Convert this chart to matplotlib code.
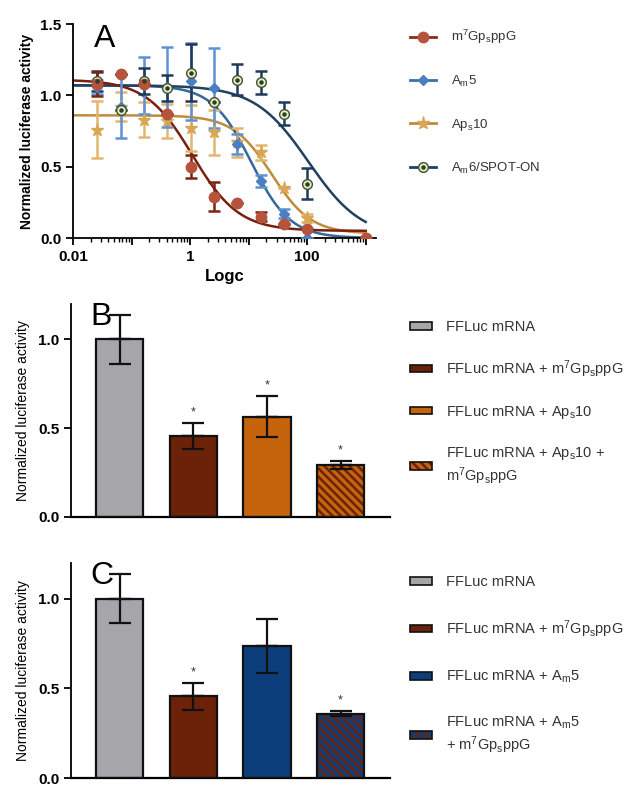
import numpy as np
import matplotlib
matplotlib.use("Agg")
import matplotlib.pyplot as plt
from matplotlib.lines import Line2D
from matplotlib.patches import Patch
from matplotlib.ticker import LogLocator, FuncFormatter, NullFormatter, FixedLocator

plt.rcParams["font.family"] = ["Liberation Sans", "DejaVu Sans"]
plt.rcParams["mathtext.default"] = "regular"
plt.rcParams["hatch.linewidth"] = 1.8

# ---- panel A: dose response ----
conc = [0.0262, 0.0655, 0.164, 0.41, 1.02, 2.56, 6.4, 16, 40, 100, 1000]

cap_y = [1.08, 1.15, 1.08, 0.87, 0.50, 0.29, 0.245, 0.15, 0.10, 0.06, 0.0]
cap_err = [0.085, 0.0, 0.0, 0.0, 0.08, 0.10, 0.0, 0.03, 0.0, 0.0, 0.0]

am5_y = [1.06, 0.92, 1.07, 1.06, 1.10, 1.05, 0.66, 0.40, 0.17, 0.0]
am5_err = [0.05, 0.22, 0.20, 0.28, 0.27, 0.28, 0.07, 0.04, 0.03, 0.0]

aps10_y = [0.76, 0.92, 0.83, 0.82, 0.77, 0.74, 0.67, 0.60, 0.35, 0.14]
aps10_err = [0.20, 0.10, 0.12, 0.12, 0.16, 0.16, 0.10, 0.05, 0.0, 0.03]

am6_y = [1.10, 0.90, 1.10, 1.05, 1.16, 0.95, 1.11, 1.09, 0.87, 0.38]
am6_err = [0.07, 0.0, 0.09, 0.09, 0.20, 0.0, 0.11, 0.08, 0.08, 0.11]

# fitted 4PL parameters: top, bottom, IC50, hill
cap_fit = (1.11, 0.05, 1.1, 1.1)
am5_fit = (1.07, 0.0, 11.0, 1.3)
aps10_fit = (0.86, 0.03, 25.0, 1.3)
am6_fit = (1.07, 0.0, 105.0, 0.95)

# ---- panels B and C: bar charts ----
bar_b = [1.0, 0.458, 0.565, 0.294]
bar_b_err = [0.137, 0.073, 0.117, 0.022]
star_b = [False, True, True, True]
labels_b = ["FFLuc mRNA",
            "FFLuc mRNA + m$^7$Gp$_s$ppG",
            "FFLuc mRNA + Ap$_s$10",
            "FFLuc mRNA + Ap$_s$10 +\nm$^7$Gp$_s$ppG"]

bar_c = [1.0, 0.455, 0.736, 0.36]
bar_c_err = [0.137, 0.078, 0.152, 0.015]
star_c = [False, True, False, True]
labels_c = ["FFLuc mRNA",
            "FFLuc mRNA + m$^7$Gp$_s$ppG",
            "FFLuc mRNA + A$_m$5",
            "FFLuc mRNA + A$_m$5\n+ m$^7$Gp$_s$ppG"]

GRAY = "#a5a5aa"
BROWN = "#6b2208"
ORANGE = "#c5640c"
NAVY = "#0c3e7c"
HATCH = "\\\\\\\\"


def four_pl(x, p):
    top, bottom, ic50, hill = p
    return bottom + (top - bottom) / (1 + (x / ic50) ** hill)


def style_axis(ax):
    for s in ("top", "right"):
        ax.spines[s].set_visible(False)
    for s in ("left", "bottom"):
        ax.spines[s].set_linewidth(1.3)
    ax.tick_params(width=1.3, length=5)
    for lab in ax.get_yticklabels() + ax.get_xticklabels():
        lab.set_fontweight("bold")
        lab.set_fontsize(11)


fig = plt.figure(figsize=(6.26, 7.86), dpi=100)

# panel A
axA = fig.add_axes([73 / 626, 1 - 238 / 786, 303 / 626, 214 / 786])
xs = np.logspace(-2, 3, 300)
series = [
    (aps10_y, aps10_err, aps10_fit, "*", "#d9a656", "#e2b66f", "#bf8c3c", 9.5, "#d9a656"),
    (am5_y, am5_err, am5_fit, "D", "#4a7fc1", "#5f92d2", "#36689c", 5.5, "#4a7fc1"),
    (am6_y, am6_err, am6_fit, "o", "#e4efb4", "#1f3a5a", "#23405f", 7, "#3c4f3c"),
    (cap_y, cap_err, cap_fit, "o", "#b5533c", "#7b2414", "#7a2010", 7.5, "#b5533c"),
]
for y, err, fit, mk, mcol, ecol, lcol, ms, medge in series:
    x = conc[:len(y)]
    axA.plot(xs, four_pl(xs, fit), color=lcol, lw=1.8, zorder=2)
    axA.errorbar(x, y, yerr=err, fmt="none", ecolor=ecol, elinewidth=1.8,
                 capsize=4.5, capthick=1.8, zorder=3)
    axA.plot(x, y, ls="none", marker=mk, ms=ms, mfc=mcol, mec=medge, mew=1.0, zorder=4)
    if mk == "o" and mcol == "#e4efb4":
        axA.plot(x, y, ls="none", marker="o", ms=2.2, color="#2e3b2e", zorder=5)

axA.set_xscale("log")
axA.set_xlim(0.01, 1500)
axA.set_ylim(0, 1.5)
axA.xaxis.set_major_locator(LogLocator(base=10, numticks=10))
axA.xaxis.set_minor_locator(LogLocator(base=10, subs=np.arange(2, 10), numticks=20))
axA.xaxis.set_major_formatter(FuncFormatter(
    lambda v, pos: {0.01: "0.01", 1: "1", 100: "100"}.get(round(v, 4), "")))
axA.xaxis.set_minor_formatter(NullFormatter())
axA.yaxis.set_major_locator(FixedLocator([0, 0.5, 1.0, 1.5]))
axA.yaxis.set_major_formatter(FuncFormatter(lambda v, pos: f"{v:.1f}"))
style_axis(axA)
axA.tick_params(axis="x", which="minor", length=3, width=1.0)
axA.set_xlabel("Logc", fontsize=12, fontweight="bold", labelpad=4)
axA.set_ylabel("Normalized luciferase activity", fontsize=10, fontweight="bold", labelpad=4)
axA.text(0.07, 1.0, "A", transform=axA.transAxes, fontsize=23, va="top")

handlesA = [
    Line2D([], [], color="#8b2c1a", lw=2, marker="o", ms=7.5, mfc="#b5533c", mec="#b5533c"),
    Line2D([], [], color="#3a6fa8", lw=2, marker="D", ms=5.5, mfc="#4a7fc1", mec="#4a7fc1"),
    Line2D([], [], color="#c08a3a", lw=2, marker="*", ms=9.5, mfc="#d9a656", mec="#d9a656"),
    (Line2D([], [], color="#23405f", lw=2, marker="o", ms=7, mfc="#e4efb4", mec="#3c4f3c"),
     Line2D([], [], ls="none", marker="o", ms=2.2, color="#2e3b2e")),
]
labelsA = ["m$^7$Gp$_s$ppG", "A$_m$5", "Ap$_s$10", "A$_m$6/SPOT-ON"]
fig.legend(handlesA, labelsA, loc="upper left", bbox_to_anchor=(410 / 626, 1 - 28 / 786),
           frameon=False, fontsize=9.5, labelspacing=2.1, handlelength=2.0,
           handletextpad=1.1, borderpad=0, borderaxespad=0, labelcolor="#333333")


def bar_panel(rect, vals, errs, stars, colors, hatch_col, labels, letter, leg_top, leg_sp):
    ax = fig.add_axes(rect)
    pos = np.arange(len(vals))
    ax.bar(pos, vals, width=0.64, color=colors, edgecolor="none", zorder=2)
    # hatched last bar: stripes in second colour over the base colour
    ax.bar(pos[-1:], vals[-1:], width=0.64, color="none", edgecolor=hatch_col,
           hatch=HATCH, lw=0, zorder=3)
    ax.bar(pos, vals, width=0.64, color="none", edgecolor="#111111", lw=1.6, zorder=4)
    ax.errorbar(pos, vals, yerr=[np.zeros(len(errs)), errs], fmt="none",
                ecolor="#111111", elinewidth=1.6, capsize=8, capthick=1.6, zorder=1)
    ax.errorbar(pos, vals, yerr=[errs, np.zeros(len(errs))], fmt="none",
                ecolor="#111111", elinewidth=1.6, capsize=8, capthick=1.6, zorder=5)
    for p, v, e, s in zip(pos, vals, errs, stars):
        if s:
            ax.text(p, v + e + 0.025, "*", ha="center", va="bottom", fontsize=9,
                    color="#333333")
    ax.set_xlim(-0.66, 3.67)
    ax.set_ylim(0, 1.2)
    ax.set_xticks([])
    ax.yaxis.set_major_locator(FixedLocator([0, 0.5, 1.0]))
    ax.yaxis.set_major_formatter(FuncFormatter(lambda v, pos: f"{v:.1f}"))
    style_axis(ax)
    ax.spines["bottom"].set_linewidth(1.6)
    ax.set_ylabel("Normalized luciferase activity", fontsize=10, labelpad=6)
    ax.text(0.06, 1.01, letter, transform=ax.transAxes, fontsize=23, va="top")

    handles = [Patch(facecolor=c, edgecolor="#111111", lw=1.2) for c in colors[:-1]]
    handles.append((Patch(facecolor=colors[-1], edgecolor="none"),
                    Patch(facecolor="none", edgecolor=hatch_col, hatch=HATCH, lw=0),
                    Patch(facecolor="none", edgecolor="#111111", lw=1.2)))
    fig.legend(handles, labels, loc="upper left", bbox_to_anchor=(410 / 626, leg_top),
               frameon=False, fontsize=10.5, labelspacing=leg_sp, handlelength=1.5,
               handleheight=0.45, handletextpad=1.0, borderpad=0, borderaxespad=0,
               labelcolor="#333333")
    return ax


bar_panel([71 / 626, 1 - 517 / 786, 319 / 626, 213 / 786], bar_b, bar_b_err, star_b,
          [GRAY, BROWN, ORANGE, ORANGE], BROWN, labels_b, "B", 1 - 320 / 786, 1.65)
bar_panel([71 / 626, 1 - 778 / 786, 319 / 626, 215 / 786], bar_c, bar_c_err, star_c,
          [GRAY, BROWN, NAVY, NAVY], BROWN, labels_c, "C", 1 - 575 / 786, 2.0)

fig.savefig("out.png", dpi=100)
